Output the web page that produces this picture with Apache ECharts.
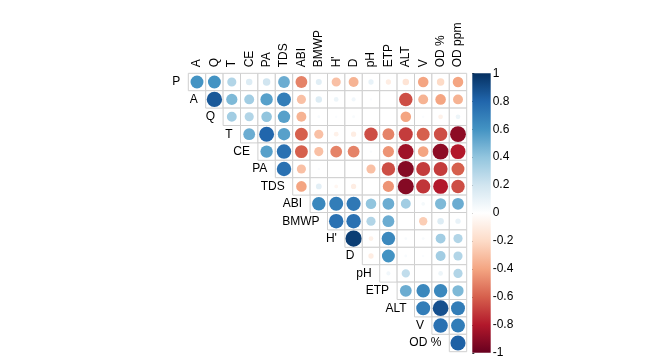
<!DOCTYPE html>
<html>
<head>
<meta charset="utf-8">
<script src="https://cdn.jsdelivr.net/npm/echarts@6/dist/echarts.min.js"></script>
<style>html,body{margin:0;padding:0;background:#fff}#c{width:651px;height:361px}</style>
</head>
<body>
<div id="c"></div>
<script>
// Variables (rows use first 16, columns use last 16)
const variables = ['P','A','Q','T','CE','PA','TDS','ABI','BMWP',"H'",'D','pH','ETP','ALT','V','OD %','OD ppm'];
const rowNames = variables.slice(0, 16);
const colNames = variables.slice(1);
// Upper-triangle correlations, each row starting at the column right after its own variable
const corrP    = [0.6, 0.6, 0.3, 0.15, 0.2, 0.5, -0.5, 0.13, -0.3, -0.35, 0.1, -0.1, -0.15, -0.4, -0.2, -0.4];
const corrA    = [0.85, 0.45, 0.35, 0.55, 0.7, -0.3, 0.15, 0.08, 0.06, 0.02, 0.0, -0.65, -0.35, -0.4, -0.35];
const corrQ    = [0.35, 0.3, 0.4, 0.55, -0.35, 0.03, 0.02, 0.03, 0.0, 0.0, -0.4, 0.02, -0.08, 0.08];
const corrT    = [0.5, 0.8, 0.55, -0.6, -0.3, -0.08, -0.1, -0.65, -0.5, -0.7, -0.6, -0.65, -0.9];
const corrCE   = [0.55, 0.75, -0.6, -0.3, -0.5, -0.5, 0.02, -0.45, -0.85, -0.4, -0.9, -0.8];
const corrPA   = [0.75, -0.3, 0.02, 0.0, 0.0, -0.3, -0.65, -0.92, -0.7, -0.7, -0.6];
const corrTDS  = [-0.4, 0.12, -0.05, -0.1, 0.0, -0.45, -0.92, -0.72, -0.8, -0.65];
const corrABI  = [0.65, 0.7, 0.72, 0.4, 0.5, 0.35, 0.05, 0.45, 0.5];
const corrBMWP = [0.75, 0.75, 0.3, 0.5, 0.0, -0.25, 0.15, 0.1];
const corrH    = [0.95, -0.08, 0.65, 0.03, 0.03, 0.35, 0.3];
const corrD    = [-0.1, 0.6, 0.03, 0.02, 0.35, 0.3];
const corrPH   = [0.06, 0.25, 0.0, 0.08, 0.3];
const corrETP  = [0.5, 0.65, 0.65, 0.45];
const corrALT  = [0.7, 0.88, 0.7];
const corrV    = [0.75, 0.7];
const corrODp  = [0.82];
const corrRows = [corrP, corrA, corrQ, corrT, corrCE, corrPA, corrTDS, corrABI, corrBMWP, corrH, corrD, corrPH, corrETP, corrALT, corrV, corrODp];
const barTicks = [-1, -0.8, -0.6, -0.4, -0.2, 0, 0.2, 0.4, 0.6, 0.8, 1];
const palette = ['#67001F','#B2182B','#D6604D','#F4A582','#FDDBC7','#FFFFFF','#D1E5F0','#92C5DE','#4393C3','#2166AC','#053061'];

const cells = [];
corrRows.forEach((row, i) => row.forEach((v, k) => cells.push([i + k, i, v])));
const diag = rowNames.map((n, i) => [i, i, n]);

const FONT = 'Liberation Sans, Arial, sans-serif';
const chart = echarts.init(document.getElementById('c'));
chart.setOption({
  animation: false,
  backgroundColor: '#fff',
  grid: [
    {left: 188.3, top: 73.3, width: 278.4, height: 278.4},
    {left: 472.3, top: 73.3, width: 18.4, height: 279.5}
  ],
  xAxis: [
    {type: 'category', gridIndex: 0, data: colNames, position: 'top', show: false},
    {type: 'value', gridIndex: 1, min: 0, max: 1, show: false}
  ],
  yAxis: [
    {type: 'category', gridIndex: 0, data: rowNames, inverse: true, show: false},
    {type: 'value', gridIndex: 1, min: -1, max: 1, interval: 0.2, position: 'right',
     axisLine: {show: false}, splitLine: {show: false},
     axisTick: {show: true, length: 2, inside: false, lineStyle: {color: '#333'}},
     axisLabel: {margin: 2, fontSize: 12, color: '#000', fontFamily: FONT,
       formatter: v => { const t = barTicks.find(b => Math.abs(b - v) < 1e-6); return t === undefined ? '' : String(t); }}}
  ],
  visualMap: {type: 'continuous', show: false, min: -1, max: 1, dimension: 2, seriesIndex: 0, inRange: {color: palette}},
  series: [
    {type: 'custom', xAxisIndex: 0, yAxisIndex: 0, data: cells,
     renderItem: (params, api) => {
       const c = api.coord([api.value(0), api.value(1)]);
       const s = api.size([1, 1]);
       const w = s[0], h = s[1];
       const r = api.value(2);
       return {type: 'group', children: [
         {type: 'rect', shape: {x: c[0] - w / 2, y: c[1] - h / 2, width: w, height: h},
          style: {fill: '#fff', stroke: '#cfcfcf', lineWidth: 1}},
         {type: 'circle', shape: {cx: c[0], cy: c[1], r: 0.48 * Math.sqrt(Math.abs(r)) * w},
          style: {fill: api.visual('color')}}
       ]};
     }},
    {type: 'custom', xAxisIndex: 0, yAxisIndex: 0, data: diag,
     renderItem: (params, api) => {
       const c = api.coord([api.value(0), api.value(1)]);
       const w = api.size([1, 1])[0];
       return {type: 'text', style: {text: rowNames[params.dataIndex], x: c[0] - w / 2 - 8, y: c[1],
         textAlign: 'right', textVerticalAlign: 'middle', fill: '#000', font: '12px ' + FONT}};
     }},
    {type: 'custom', xAxisIndex: 0, yAxisIndex: 0, data: colNames.map((n, j) => [j, 0]),
     renderItem: (params, api) => {
       const c = api.coord([api.value(0), 0]);
       const h = api.size([1, 1])[1];
       return {type: 'text', x: c[0], y: c[1] - h / 2 - 6, rotation: Math.PI / 2,
         style: {text: colNames[params.dataIndex], x: 0, y: 0,
           textAlign: 'left', textVerticalAlign: 'middle', fill: '#000', font: '12px ' + FONT}};
     }},
    {type: 'custom', xAxisIndex: 1, yAxisIndex: 1, data: [[0, -1, 1]],
     renderItem: (params, api) => {
       const p0 = api.coord([0, 1]);
       const p1 = api.coord([1, -1]);
       const stops = palette.map((col, k) => ({offset: 1 - k / (palette.length - 1), color: col}));
       return {type: 'rect', shape: {x: p0[0], y: p0[1], width: p1[0] - p0[0], height: p1[1] - p0[1]},
         style: {fill: new echarts.graphic.LinearGradient(0, 0, 0, 1, stops)}};
     }}
  ]
});
</script>
</body>
</html>
